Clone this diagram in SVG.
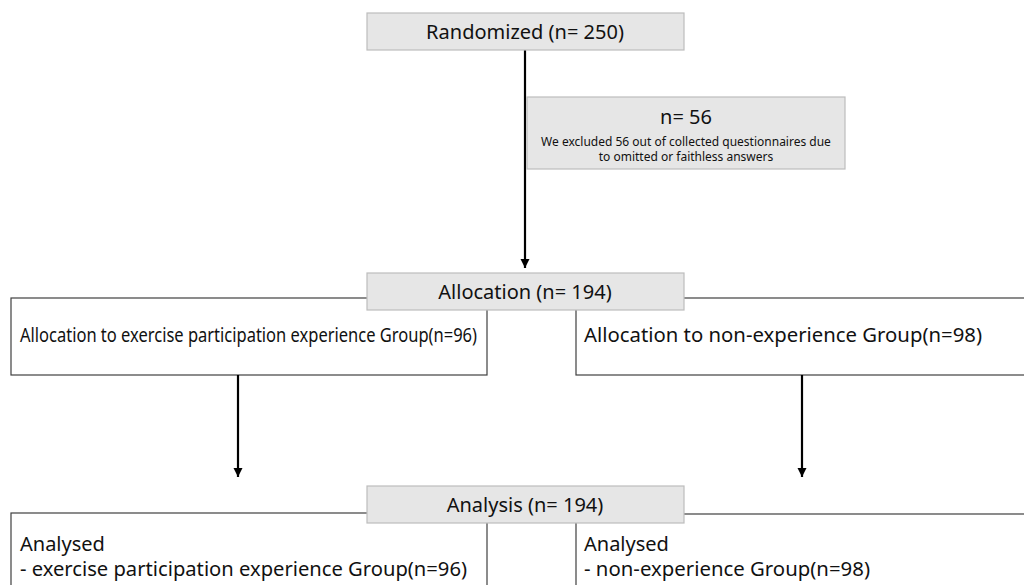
<svg xmlns="http://www.w3.org/2000/svg" width="1024" height="585" viewBox="0 0 1024 585">
<defs>
<marker id="ah" markerWidth="12" markerHeight="12" refX="9" refY="5.5" orient="auto" markerUnits="userSpaceOnUse">
<path d="M0,1 L9,5.5 L0,10 Z" fill="#000"/>
</marker>
<style>
.gray{fill:#e6e6e6;stroke:#bdbdbd;stroke-width:1.2}
.white{fill:#fff;stroke:#404040;stroke-width:1.2}
text{font-family:"Noto Sans","Open Sans","DejaVu Sans",sans-serif;fill:#111}
.t20{font-size:20px}
.t12{font-size:12px}
.conn{stroke:#000;stroke-width:2.2;fill:none}
</style>
</defs>
<rect width="1024" height="585" fill="#fff"/>
<g id="alloc-left"><rect class="white" x="11" y="298" width="476" height="77"/>
<text class="t20" x="20" y="342" textLength="457" lengthAdjust="spacingAndGlyphs">Allocation to exercise participation experience Group(n=96)</text></g>
<g id="alloc-right"><rect class="white" x="576" y="298" width="460" height="77"/>
<text class="t20" x="584" y="342" textLength="398" lengthAdjust="spacingAndGlyphs">Allocation to non-experience Group(n=98)</text></g>
<g id="analysed-left"><rect class="white" x="11" y="513" width="476" height="90"/>
<text class="t20" x="20" y="551">Analysed</text>
<text class="t20" x="20" y="576" textLength="447" lengthAdjust="spacingAndGlyphs">- exercise participation experience Group(n=96)</text></g>
<g id="analysed-right"><rect class="white" x="576" y="514" width="460" height="90"/>
<text class="t20" x="584" y="551">Analysed</text>
<text class="t20" x="584" y="576" textLength="286" lengthAdjust="spacingAndGlyphs">- non-experience Group(n=98)</text></g>
<g id="connectors">
<line class="conn" x1="525" y1="50" x2="525" y2="268" marker-end="url(#ah)"/>
<line class="conn" x1="238" y1="375" x2="238" y2="477" marker-end="url(#ah)"/>
<line class="conn" x1="802" y1="375" x2="802" y2="477" marker-end="url(#ah)"/>
</g>
<g id="randomized"><rect class="gray" x="367" y="13" width="317" height="37"/>
<text class="t20" x="525" y="39" text-anchor="middle">Randomized (n= 250)</text></g>
<g id="excluded"><rect class="gray" x="527" y="97" width="318" height="72"/>
<text class="t20" x="686" y="124" text-anchor="middle">n= 56</text>
<text class="t12" x="686" y="146" text-anchor="middle">We excluded 56 out of collected questionnaires due</text>
<text class="t12" x="686" y="161" text-anchor="middle">to omitted or faithless answers</text></g>
<g id="allocation"><rect class="gray" x="367" y="273" width="317" height="37"/>
<text class="t20" x="525" y="299" text-anchor="middle">Allocation (n= 194)</text></g>
<g id="analysis"><rect class="gray" x="367" y="486" width="317" height="37"/>
<text class="t20" x="525" y="512" text-anchor="middle">Analysis (n= 194)</text></g>
</svg>
